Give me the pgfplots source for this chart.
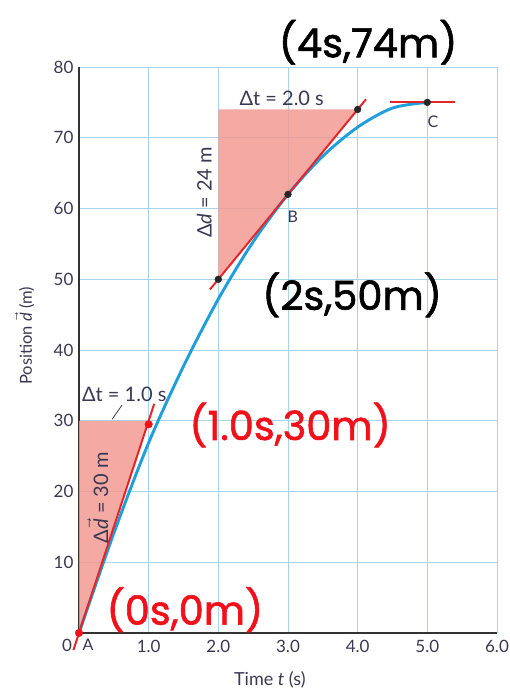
\documentclass[border=0pt]{standalone}
\usepackage{fontspec}
\setmainfont{Lato}
\newfontfamily\hand[FakeBold=1.5]{Poppins}
\usepackage{pgfplots}
\pgfplotsset{compat=1.18}
\definecolor{gridblue}{HTML}{A9D5EC}
\definecolor{curveblue}{HTML}{1E9FDC}
\definecolor{tanred}{HTML}{E4262B}
\definecolor{salmon}{HTML}{F29A92}
\definecolor{hred}{HTML}{F2101A}
\definecolor{ticktext}{HTML}{3B3852}
\begin{document}
\begin{tikzpicture}
\begin{axis}[
  at={(79pt,58pt)}, anchor=south west,
  scale only axis, width=418pt, height=566pt,
  xmin=0, xmax=6, ymin=0, ymax=80,
  axis lines=left,
  axis line style={-, line width=1.3pt, color=black!80},
  xtick={1,2,3,4,5,6}, xticklabels={1.0,2.0,3.0,4.0,5.0,6.0},
  ytick={10,20,30,40,50,60,70,80}, yticklabels={10,20,30,40,50,60,70,80},
  major tick length=0pt,
  grid=major, grid style={gridblue, line width=0.9pt},
  tick label style={font=\fontsize{17}{17}\selectfont, color=ticktext},
  xticklabel style={yshift=-4pt},
  yticklabel style={xshift=-2pt},
  clip=false,
]
% shaded triangles
\addplot[fill=salmon, draw=none, fill opacity=0.85] coordinates {(0,0) (0,30) (1,30)} -- cycle;
\addplot[fill=salmon, draw=none, fill opacity=0.85] coordinates {(2,50) (2,74) (4,74)} -- cycle;
% position curve
\addplot[curveblue, line width=2.9pt, smooth] coordinates {
  (0,0) (0.5,14.1) (1,26.9) (1.5,37.7) (2,47.2) (2.5,55.3) (3,62) (3.5,67.4) (4,71.5) (4.5,74.2) (5,75)};
% tangent lines
\addplot[tanred, line width=2pt] coordinates {(-0.08,-2.4) (1.08,32.4)};
\addplot[tanred, line width=2pt] coordinates {(1.88,48.56) (4.12,75.44)};
\addplot[tanred, line width=2pt] coordinates {(4.47,75) (5.4,75)};
% dots
\addplot[only marks, mark=*, mark size=3.8pt, color=hred] coordinates {(0,0) (1,29.5)};
\addplot[only marks, mark=*, mark size=3.4pt, color=black!85] coordinates {(2,50) (3,62) (4,74) (5,75)};
% labels
\node[font=\fontsize{20}{20}\selectfont, color=ticktext] at (axis cs:0.65,33.7) {Δt = 1.0 s};
\draw[ticktext, line width=0.8pt] (axis cs:0.617,32.2) -- (axis cs:0.474,30.2);
\node[font=\fontsize{20}{20}\selectfont, color=ticktext, rotate=90] at (axis cs:0.27,19.1) {Δ$\vec{\mbox{\itshape d}}$ = 30 m};
\node[font=\fontsize{20}{20}\selectfont, color=ticktext] at (axis cs:2.91,75.6) {Δt = 2.0 s};
\node[font=\fontsize{20}{20}\selectfont, color=ticktext, rotate=90] at (axis cs:1.80,62.3) {Δ\textit{d} = 24 m};
\node[font=\fontsize{16}{16}\selectfont, color=ticktext] at (axis cs:3.07,58.8) {B};
\node[font=\fontsize{16}{16}\selectfont, color=ticktext] at (axis cs:5.08,72.2) {C};
\node[font=\fontsize{16}{16}\selectfont, color=ticktext] at (axis cs:0.13,-1.7) {A};
\node[font=\fontsize{17}{17}\selectfont, color=ticktext] at (axis cs:-0.17,-1.7) {0};
\node[font=\fontsize{18}{18}\selectfont, color=ticktext] at (axis cs:2.74,-6.6) {Time \textit{t} (s)};
\node[font=\fontsize{16.5}{16.5}\selectfont, color=ticktext, rotate=90] at (axis cs:-0.78,42) {Position $\vec{\mbox{\itshape d}}$ (m)};
% handwritten annotations
\node[font=\hand\fontsize{40}{40}\selectfont, color=black] at (axis cs:4.15,83.5) {(4s,74m)};
\node[font=\hand\fontsize{40}{40}\selectfont, color=black] at (axis cs:3.92,47.8) {(2s,50m)};
\node[font=\hand\fontsize{40}{40}\selectfont, color=hred] at (axis cs:3.03,29.4) {(1.0s,30m)};
\node[font=\hand\fontsize{40}{40}\selectfont, color=hred] at (axis cs:1.52,3.3) {(0s,0m)};
\end{axis}
\pgfresetboundingbox
\useasboundingbox (0,0) rectangle (510pt,691pt);
\end{tikzpicture}
\end{document}
